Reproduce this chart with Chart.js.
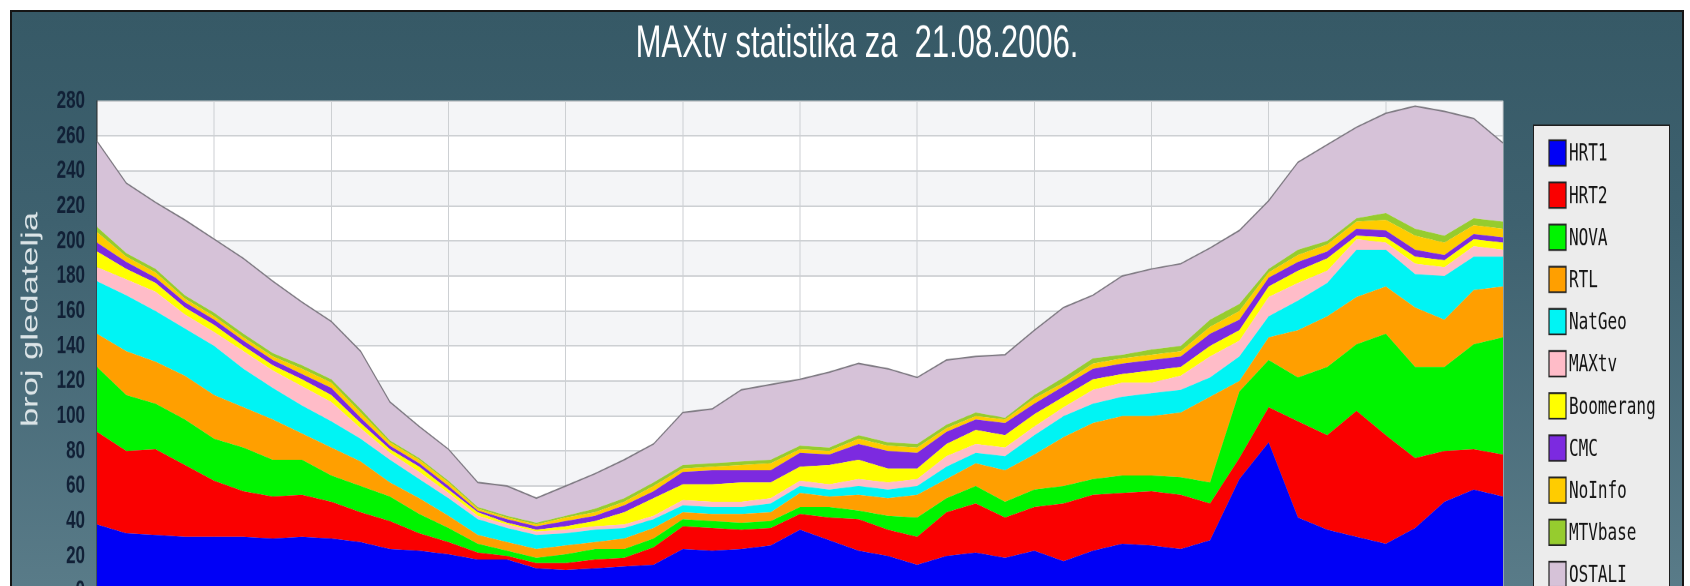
<!DOCTYPE html>
<html>
<head>
<meta charset="utf-8">
<title>MAXtv statistika</title>
<script src="https://cdn.jsdelivr.net/npm/chart.js@4.4.0/dist/chart.umd.min.js"></script>
<style>
    body { margin: 0; background: #fff; overflow: hidden; width: 1690px; height: 586px; }
    #panel {
        position: absolute; left: 10px; top: 10px; width: 1670px; height: 600px;
        border: 2px solid #151515;
        background: linear-gradient(#365966, #3e616f 35%, #5b7d8a);
    }
    /* the original picture is stretched vertically, so is this one */
    #wrap { position: absolute; left: 0; top: 0; width: 1690px; height: 400px; transform: scaleY(1.5); transform-origin: 0 0; }
</style>
</head>
<body>
<div id="panel"></div>
<div id="wrap"><canvas id="chart" width="1690" height="400"></canvas></div>
<script>
// half-hour samples over the day
const times = ["00:00","00:30","01:00","01:30","02:00","02:30","03:00","03:30","04:00","04:30",
    "05:00","05:30","06:00","06:30","07:00","07:30","08:00","08:30","09:00","09:30",
    "10:00","10:30","11:00","11:30","12:00","12:30","13:00","13:30","14:00","14:30",
    "15:00","15:30","16:00","16:30","17:00","17:30","18:00","18:30","19:00","19:30",
    "20:00","20:30","21:00","21:30","22:00","22:30","23:00","23:30","24:00"];

// viewers per channel (broj gledatelja)
const hrt1 = [38,33,32,31,31,31,30,31,30,28,24,23,21,18,18,13,12,13,14,15,24,23,24,26,35,29,23,20,15,20,22,19,23,17,23,27,26,24,29,64,85,42,35,31,27,36,51,58,54];
const hrt2 = [53,47,49,41,32,26,24,24,21,17,16,10,7,4,2,3,4,5,5,10,13,13,11,10,9,13,18,15,16,25,28,23,25,33,32,29,31,31,21,12,20,55,54,72,62,40,29,23,24];
const nova = [37,32,26,26,24,25,21,20,15,15,14,11,8,5,3,3,5,6,5,5,4,4,4,4,4,6,5,8,11,8,10,9,10,10,9,10,9,10,12,38,27,25,39,38,58,52,48,60,67];
const rtl = [19,25,24,25,25,23,23,15,16,14,8,9,7,5,5,5,5,4,6,6,4,4,5,5,8,6,9,10,13,11,13,18,20,28,32,34,34,37,49,6,13,27,29,27,27,34,27,31,29];
const natgeo = [30,32,29,27,28,22,18,16,15,13,13,11,10,9,8,8,7,7,6,5,4,4,4,5,4,4,5,5,5,7,6,8,11,12,11,11,13,13,11,14,12,17,19,27,21,19,25,19,17];
const maxtv = [8,9,11,8,8,10,10,11,11,6,4,4,3,2,2,2,2,2,2,2,3,3,3,3,3,3,4,4,4,6,5,5,5,5,8,8,6,8,12,9,11,10,7,6,4,6,5,6,4];
const boomerang = [9,6,5,4,4,3,3,4,4,3,2,3,2,2,1,1,2,3,7,10,9,10,11,9,8,11,11,8,6,7,8,7,7,6,6,5,7,5,6,6,6,7,7,2,3,4,4,4,4];
const cmc = [5,4,3,3,3,3,3,3,4,3,2,2,2,1,2,2,3,3,4,4,7,8,7,7,8,6,9,10,9,7,6,7,6,6,6,6,6,6,7,6,5,5,4,4,4,4,3,3,3];
const noinfo = [6,3,3,2,2,2,2,3,3,3,2,2,2,1,1,1,2,2,2,3,2,2,3,4,2,2,3,3,3,2,2,2,3,2,3,3,3,3,4,5,3,4,4,4,6,8,7,5,5];
const mtvbase = [3,2,2,2,2,2,2,2,2,2,1,1,1,1,1,1,1,2,2,2,2,2,2,2,2,2,2,2,2,2,2,1,2,3,3,2,3,3,4,4,2,3,2,2,4,4,4,4,4];
const ostali = [49,40,38,43,42,43,41,36,33,33,22,18,18,14,17,14,17,20,22,22,30,31,41,43,38,43,41,42,38,37,32,36,37,40,36,45,46,47,41,42,39,50,55,52,57,70,71,57,45];

const names = ["HRT1","HRT2","NOVA","RTL","NatGeo","MAXtv","Boomerang","CMC","NoInfo","MTVbase","OSTALI"];
const series = [hrt1, hrt2, nova, rtl, natgeo, maxtv, boomerang, cmc, noinfo, mtvbase, ostali];
const colors = ["#0000f6","#fa0000","#00f400","#ff9f00","#00f4f4","#ffbcc8","#ffff00","#7c2ae0","#ffcc00","#96cc2e","#d6c2d8"];

Chart.defaults.font.family = '"Liberation Sans", Arial, sans-serif';

// white plot with light grey bands every other 20 viewers
const plotBands = {
    id: 'plotBands',
    beforeDraw(chart) {
        const { ctx, chartArea: a, scales: { y } } = chart;
        ctx.save();
        ctx.fillStyle = '#ffffff';
        ctx.fillRect(a.left, a.top, a.right - a.left, a.bottom - a.top);
        ctx.fillStyle = '#f4f5f7';
        for (let v = 20; v < 280; v += 40) {
            const top = y.getPixelForValue(v + 20);
            const bottom = y.getPixelForValue(v);
            ctx.fillRect(a.left, top, a.right - a.left, bottom - top);
        }
        ctx.restore();
    }
};

// title, legend box and axis caption
const decorations = {
    id: 'decorations',
    afterDraw(chart) {
        const ctx = chart.ctx;
        ctx.save();

        ctx.font = '31px "Liberation Sans", Arial, sans-serif';
        ctx.fillStyle = '#ffffff';
        ctx.textAlign = 'center';
        ctx.textBaseline = 'middle';
        ctx.fillText('MAXtv statistika za  21.08.2006.', 857, 29.5);

        ctx.fillStyle = '#ececec';
        ctx.fillRect(1533, 83.5, 137, 330);
        ctx.strokeStyle = '#1e1e1e';
        ctx.lineWidth = 1;
        ctx.strokeRect(1533.5, 83.5, 136, 330);
        ctx.font = '16px "DejaVu Sans Mono", monospace';
        ctx.textAlign = 'left';
        chart.data.datasets.forEach((ds, i) => {
            const cy = 102 + i * 28.1;
            ctx.fillStyle = ds.backgroundColor;
            ctx.fillRect(1549, cy - 8.5, 17, 17);
            ctx.strokeStyle = '#222';
            ctx.lineWidth = 1.2;
            ctx.strokeRect(1549, cy - 8.5, 17, 17);
            ctx.fillStyle = '#141414';
            ctx.fillText(ds.label, 1569, cy + 1);
        });

        ctx.translate(31, 213);
        ctx.rotate(-Math.PI / 2);
        ctx.font = '23px "Liberation Sans", Arial, sans-serif';
        ctx.fillStyle = '#dbe4e7';
        ctx.textAlign = 'center';
        ctx.fillText('broj gledatelja', 0, 0);
        ctx.restore();
    }
};

new Chart(document.getElementById("chart"), {
    type: 'line',
    data: {
        labels: times,
        datasets: series.map((values, i) => ({
            label: names[i],
            data: values,
            backgroundColor: colors[i],
            borderColor: i === series.length - 1 ? '#7c7880' : colors[i],
            borderWidth: i === series.length - 1 ? 1 : 0,
            fill: i === 0 ? 'origin' : '-1',
            pointRadius: 0,
            tension: 0
        }))
    },
    options: {
        responsive: false,
        animation: false,
        devicePixelRatio: 2,
        layout: {
            padding: { left: 0, right: 187, top: 67.3, bottom: 6 }
        },
        plugins: {
            legend: { display: false },
            tooltip: { enabled: false },
            title: { display: false }
        },
        scales: {
            x: {
                ticks: { display: false },
                grid: {
                    color: (c) => c.index % 4 === 0 ? '#cdd0d3' : 'transparent',
                    drawTicks: false
                },
                border: { display: false }
            },
            y: {
                stacked: true,
                min: 0,
                max: 280,
                afterFit: (scale) => {
                    scale.width = 97;
                    scale.paddingTop = 0;
                    scale.paddingBottom = 0;
                },
                ticks: {
                    stepSize: 20,
                    autoSkip: false,
                    color: '#112036',
                    font: { size: 17, weight: 'bold' },
                    padding: 12
                },
                grid: { color: '#cdd0d3', drawTicks: false },
                border: { color: '#2b2b2b' }
            }
        }
    },
    plugins: [plotBands, decorations]
});
</script>
</body>
</html>
